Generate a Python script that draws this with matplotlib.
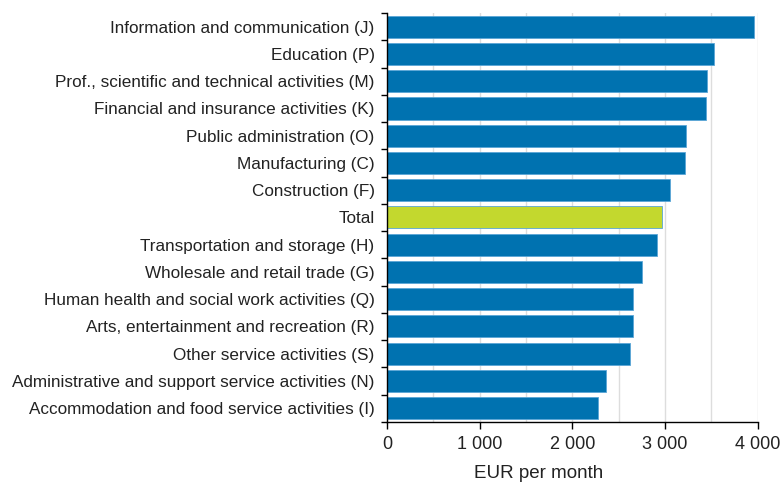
from matplotlib import pyplot as plt
from matplotlib.ticker import FuncFormatter, MultipleLocator
import numpy as np

# data, top to bottom as shown
categories = [
    "Information and communication (J)",
    "Education (P)",
    "Prof., scientific and technical activities (M)",
    "Financial and insurance activities (K)",
    "Public administration (O)",
    "Manufacturing (C)",
    "Construction (F)",
    "Total",
    "Transportation and storage (H)",
    "Wholesale and retail trade (G)",
    "Human health and social work activities (Q)",
    "Arts, entertainment and recreation (R)",
    "Other service activities (S)",
    "Administrative and support service activities (N)",
    "Accommodation and food service activities (I)",
]
earnings = [3957, 3525, 3456, 3438, 3229, 3215, 3056, 2970, 2916,
            2747, 2657, 2655, 2624, 2365, 2279]
x_ticks = [0, 1000, 2000, 3000, 4000]

plt.rcParams["font.family"] = ["Liberation Sans", "DejaVu Sans"]

fig = plt.figure(figsize=(7.82, 4.87), dpi=100)
ax = fig.add_axes([0.495, 0.134, 0.474, 0.839])

n = len(categories)
y = np.arange(n)
colors = ["#c3d82e" if c == "Total" else "#0072b0" for c in categories]
ax.barh(y, earnings, height=0.81, color=colors, edgecolor="#5aa6d6",
        linewidth=0.6, zorder=2)

ax.set_ylim(n - 0.5, -0.5)
ax.set_xlim(0, 4000)

# labels at bar centres, tick marks at slot boundaries
ax.set_yticks(y)
ax.set_yticklabels(categories, fontsize=12.3, color="#222222")
ax.tick_params(axis="y", which="major", length=0, pad=9)
ax.set_yticks(np.arange(-0.5, n, 1.0), minor=True)
ax.tick_params(axis="y", which="minor", length=4, width=1, color="black")

ax.set_xticks(x_ticks)
ax.xaxis.set_major_formatter(FuncFormatter(lambda v, p: f"{int(v):,}".replace(",", " ")))
ax.xaxis.set_minor_locator(MultipleLocator(500))
ax.tick_params(axis="x", which="major", length=5, width=1, labelsize=13,
               labelcolor="#222222", pad=5)
ax.tick_params(axis="x", which="minor", length=0)
ax.grid(axis="x", which="both", color="#dddddd", linewidth=1, zorder=0)
ax.set_axisbelow(True)

ax.set_xlabel("EUR per month", fontsize=13.5, color="#222222")
ax.xaxis.set_label_coords(0.408, -0.105)

for side in ["top", "right"]:
    ax.spines[side].set_visible(False)
for side in ["left", "bottom"]:
    ax.spines[side].set_color("black")
    ax.spines[side].set_linewidth(1)

fig.savefig("out.png", dpi=100)
